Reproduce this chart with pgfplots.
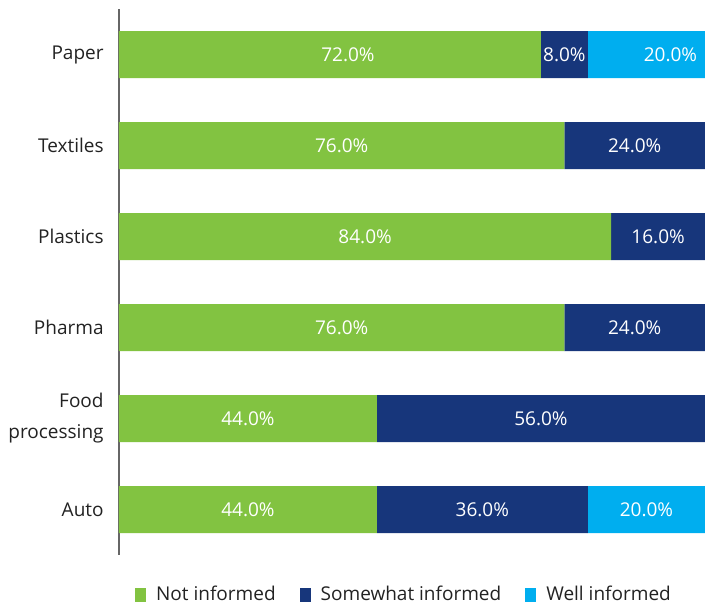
\documentclass[border=0pt]{standalone}
\usepackage{fontspec}
\setmainfont{Open Sans}
\usepackage{pgfplots}
\pgfplotsset{compat=1.18}
\usepackage{pgfplotstable}

\definecolor{notinf}{HTML}{82C341}
\definecolor{somewhat}{HTML}{17367B}
\definecolor{wellinf}{HTML}{00AEEF}
\definecolor{txt}{HTML}{222222}

% c = category (0 = Paper ... 5 = Auto), v = percent, dx = label nudge (pt)
\pgfplotstableread{
c v  dx
0 72 9
1 76 0
2 84 0
3 76 0
4 44 0
5 44 0
}\notinformed
\pgfplotstableread{
c v  dx
0 8  0
1 24 0
2 16 0
3 24 0
4 56 0
5 36 0
}\somewhatinformed
\pgfplotstableread{
c v  dx
0 20 12
1 0  0
2 0  0
3 0  0
4 0  0
5 20 0
}\wellinformed

\begin{document}
\begin{tikzpicture}
\begin{axis}[
    at={(0,0)}, anchor=south west,
    scale only axis,
    width=293pt, height=273pt,
    xbar stacked,
    bar width=23.5pt,
    xmin=0, xmax=100,
    ymin=-0.5, ymax=5.5,
    y dir=reverse,
    axis x line=none,
    axis y line=left,
    axis line style={-, draw=black!60, line width=0.6pt},
    xtick=\empty,
    ytick={0,...,5},
    yticklabels={Paper,Textiles,Plastics,Pharma,{Food\\processing},Auto},
    major tick length=0pt,
    yticklabel style={align=right, inner sep=0pt, xshift=-7.5pt,
        font=\fontsize{9.5}{15.5}\selectfont, text=txt},
    visualization depends on=rawx \as \rawx,
    visualization depends on=\thisrow{dx} \as \dx,
    nodes near coords={\ifdim\rawx pt>0.5pt
        \pgfmathprintnumber[fixed,fixed zerofill,precision=1,
            assume math mode=true]{\rawx}\%\fi},
    every node near coord/.append style={anchor=center, text=white,
        font=\fontsize{9.5}{11}\selectfont, xshift=\dx pt},
    legend columns=3,
    legend style={at={(0.488,-0.073)}, anchor=center, draw=none,
        fill=none, font=\fontsize{9.5}{11}\selectfont, text=txt,
        /tikz/every odd column/.append style={column sep=3pt},
        /tikz/every even column/.append style={column sep=10pt}},
]
\addplot[fill=notinf, draw=none,
    legend image code/.code={\fill[notinf] (0pt,-3.5pt) rectangle (5.5pt,3.5pt);}]
    table[x=v, y=c] {\notinformed};
\addlegendentry{Not informed}
\addplot[fill=somewhat, draw=none,
    legend image code/.code={\fill[somewhat] (0pt,-3.5pt) rectangle (5.5pt,3.5pt);}]
    table[x=v, y=c] {\somewhatinformed};
\addlegendentry{Somewhat informed}
\addplot[fill=wellinf, draw=none,
    legend image code/.code={\fill[wellinf] (0pt,-3.5pt) rectangle (5.5pt,3.5pt);}]
    table[x=v, y=c] {\wellinformed};
\addlegendentry{Well informed}
\end{axis}
\pgfresetboundingbox
\useasboundingbox (-59.5pt,-25pt) rectangle (293pt,277.5pt);
\end{tikzpicture}
\end{document}
